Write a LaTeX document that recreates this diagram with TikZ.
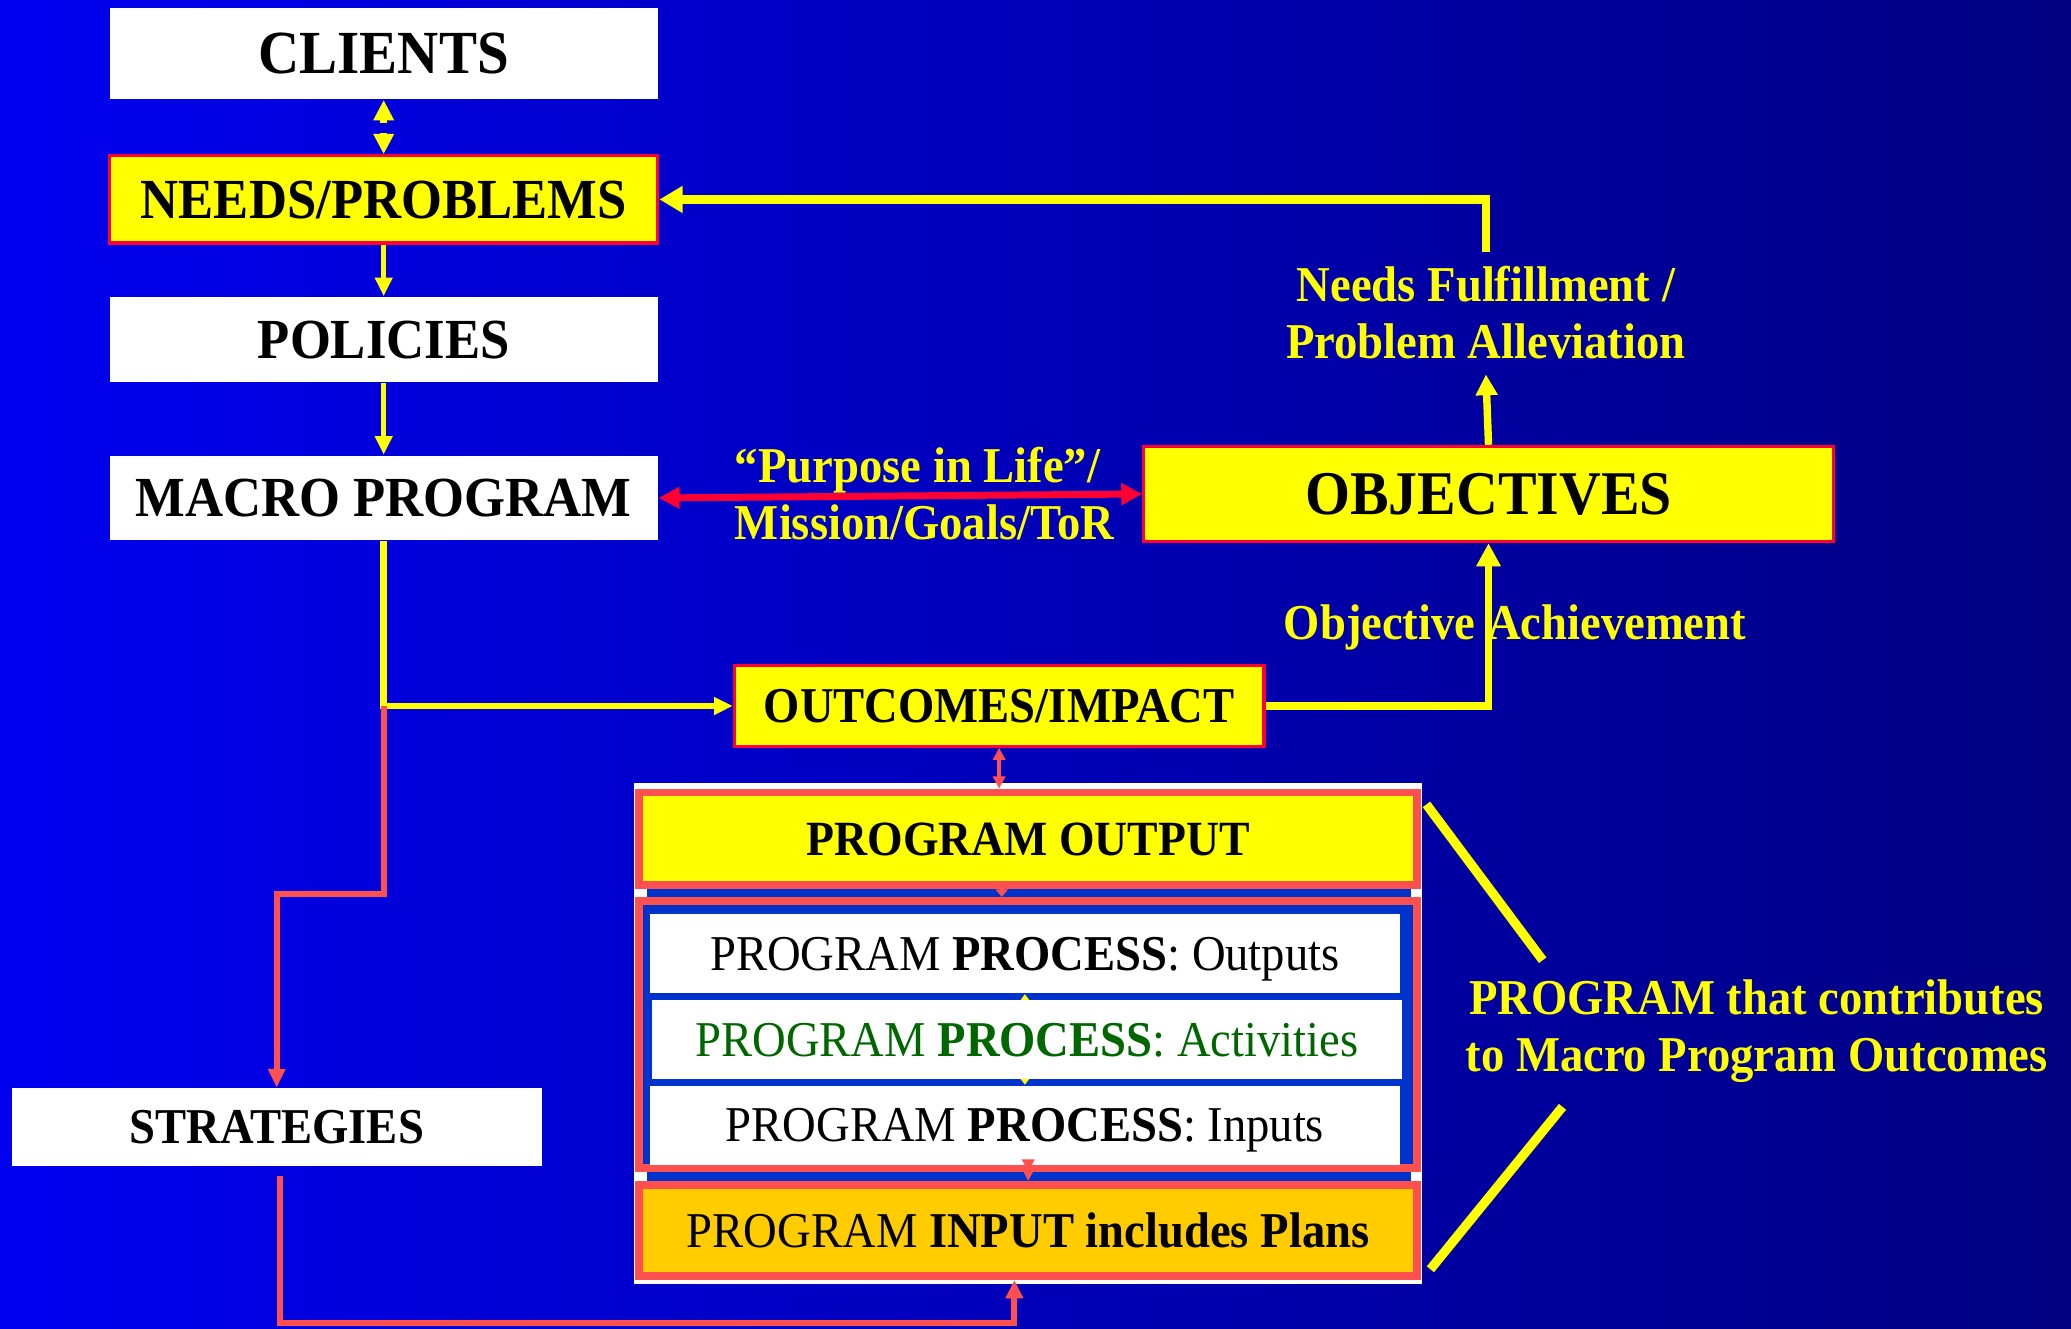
\documentclass[tikz,border=0pt]{standalone}
\usepackage{fontspec}
\setmainfont{Liberation Serif}[FakeStretch=0.93]
\usepackage{tikz}
\usetikzlibrary{arrows.meta}
\definecolor{bgleft}{RGB}{0,0,240}
\definecolor{bgmid}{RGB}{0,0,205}
\definecolor{bgright}{RGB}{0,0,128}
\definecolor{hiyellow}{RGB}{255,255,0}
\definecolor{boxred}{RGB}{255,0,51}
\definecolor{salmon}{RGB}{255,80,80}
\definecolor{gold}{RGB}{255,204,0}
\definecolor{rowblue}{RGB}{0,51,204}
\definecolor{actgreen}{RGB}{0,102,0}
\newcommand{\notefont}{\fontsize{10.8}{12.3}\selectfont}
\newcommand{\headfont}{\fontsize{12.2}{14}\selectfont}

\begin{document}
\begin{tikzpicture}[x=0.1mm, y=-0.1mm,
    whitebox/.style={fill=white, inner sep=0pt, text depth=0pt, minimum width=41.5mm, font=\headfont\bfseries},
    yellowbox/.style={fill=hiyellow, draw=boxred, line width=0.7pt, inner sep=0pt, text depth=0pt, font=\headfont\bfseries},
    progbox/.style={draw=salmon, line width=1.7pt, inner sep=0pt, text depth=0pt, minimum width=58.9mm},
    rowbox/.style={fill=white, inner sep=0pt, text depth=0pt, minimum width=56.8mm, minimum height=6mm, font=\notefont},
    note/.style={text=hiyellow, font=\notefont\bfseries, align=center, inner sep=3pt},
    yarrow/.style={draw=hiyellow, line width=1.4pt, -{Triangle[width=3.6pt,length=4pt]}},
    bigyellow/.style={draw=hiyellow, line width=1.4pt, shorten <=0.4mm, -{Triangle[width=4.2pt,length=4.4pt]}},
    redarrow/.style={draw=boxred, line width=1.5pt, {Triangle[width=4.5pt,length=4.5pt]}-{Triangle[width=4.5pt,length=4.5pt]}},
    redline/.style={draw=salmon, line width=1.3pt, -{Triangle[width=3.6pt,length=4pt]}},
    thinred/.style={draw=salmon, line width=0.8pt, {Triangle[width=2.6pt,length=2.6pt]}-{Triangle[width=2.6pt,length=2.6pt]}},
    tinyred/.style={draw=salmon, line width=0.8pt, -{Triangle[width=2.6pt,length=1.6pt]}},
    tinyyellow/.style={draw=hiyellow, line width=0.5pt, {Triangle[width=2pt,length=1.4pt]}-{Triangle[width=2pt,length=1.4pt]}},
    bracket/.style={draw=hiyellow, line width=2pt}]
  \useasboundingbox (0,0) rectangle (1568,1006);
  \fill[left color=bgleft, middle color=bgmid, right color=bgright] (0,0) rectangle (1568,1006);

  % left column
  \node[whitebox, minimum height=6.9mm, font=\fontsize{13.2}{15}\selectfont\bfseries] (clients) at (290.5,40.5) {CLIENTS};
  \node[yellowbox, minimum width=41.5mm, minimum height=6.6mm] (needs) at (290.5,151) {NEEDS/PROBLEMS};
  \node[whitebox, minimum height=6.4mm] (policies) at (290.5,257) {POLICIES};
  \node[whitebox, minimum height=6.4mm] (macro) at (290.5,377) {MACRO PROGRAM};
  \node[whitebox, minimum width=40.1mm, minimum height=5.9mm, font=\notefont\bfseries] (strategies) at (209.5,853.5) {STRATEGIES};

  % right column
  \node[yellowbox, minimum width=52.2mm, minimum height=7.2mm, font=\fontsize{13.4}{15}\selectfont\bfseries] (objectives) at (1127,374) {OBJECTIVES};
  \node[yellowbox, minimum width=40.1mm, minimum height=6.1mm, font=\notefont\bfseries] (outcomes) at (756.5,534.5) {OUTCOMES/IMPACT};

  % program block
  \node[fill=white, inner sep=0pt, minimum width=59.7mm, minimum height=37.9mm] (frame) at (778.5,782.5) {};
  \fill[rowblue] (490,668) rectangle (1068,899);
  \node[progbox, fill=rowblue, minimum height=20.2mm] (process) at (778.5,783) {};
  \node[rowbox] (outputs) at (776,722) {PROGRAM \textbf{PROCESS}: Outputs};
  \node[rowbox] (inputs) at (776,852) {PROGRAM \textbf{PROCESS}: Inputs};
  \draw[tinyyellow] (outputs) -- (inputs);
  \node[rowbox, text=actgreen] (activities) at (777.5,787) {PROGRAM \textbf{PROCESS}: Activities};
  \node[progbox, fill=hiyellow, minimum height=7mm, font=\fontsize{10.6}{12}\selectfont\bfseries] (output) at (778.5,635) {PROGRAM OUTPUT};
  \node[progbox, fill=gold, minimum height=6.9mm, font=\notefont] (input) at (778.5,931.5) {PROGRAM \textbf{INPUT includes Plans}};

  % yellow notes
  \node[note, align=left] (purpose) at (700,374) {“Purpose in Life”/\\Mission/Goals/ToR};
  \node[note] (fulfil) at (1125,237) {Needs Fulfillment /\\Problem Alleviation};
  \node[note] (achieve) at (1147,475) {Objective Achievement};
  \node[note] (contrib) at (1330,781) {PROGRAM that contributes\\to Macro Program Outcomes};

  \coordinate (cnmid) at (290.5,97);
  \coordinate (jog) at (0,677);
  \coordinate (stratout) at (212,890);
  \coordinate (lowline) at (768,1002);
  \coordinate (contribtop) at (1168,727);
  \coordinate (contribbot) at (1183,838);

  % connectors
  \draw[bigyellow] (cnmid) -- (clients.south);
  \draw[bigyellow] (cnmid) -- (needs.north);
  \draw[yarrow, line width=1.2pt] (needs) -- (policies);
  \draw[yarrow, line width=1.2pt] (policies) -- (macro);
  \draw[yarrow] (macro.south) |- (outcomes.west);
  \draw[yarrow, line width=1.6pt, -{Triangle[width=5pt,length=5pt]}] (outcomes.east) -| (objectives.south);
  \draw[yarrow, line width=1.6pt, -{Triangle[width=4.5pt,length=4.5pt]}] (objectives.north) -- (fulfil.south);
  \draw[yarrow, line width=1.8pt, -{Triangle[width=5.5pt,length=5pt]}] (fulfil.north) |- (needs.east);
  \draw[redarrow] (macro.east) -- (objectives.west);
  \draw[redline] (macro.south |- outcomes.west) -- (macro.south |- jog) -| (strategies.north);
  \draw[redline] (stratout) |- (lowline) -- (lowline |- input.south);
  \draw[thinred] (outcomes.south) -- (outcomes.south |- output.north);
  \draw[tinyred] ([xshift=-2mm]output.south) -- ([xshift=-2mm]process.north);
  \draw[thinred] (process.south) -- (input.north);
  \draw[bracket] ([shift={(0.4mm,-1.2mm)}]output.north east) -- (contribtop);
  \draw[bracket] (contribbot) -- ([shift={(0.7mm,0.8mm)}]input.south east);
\end{tikzpicture}
\end{document}
